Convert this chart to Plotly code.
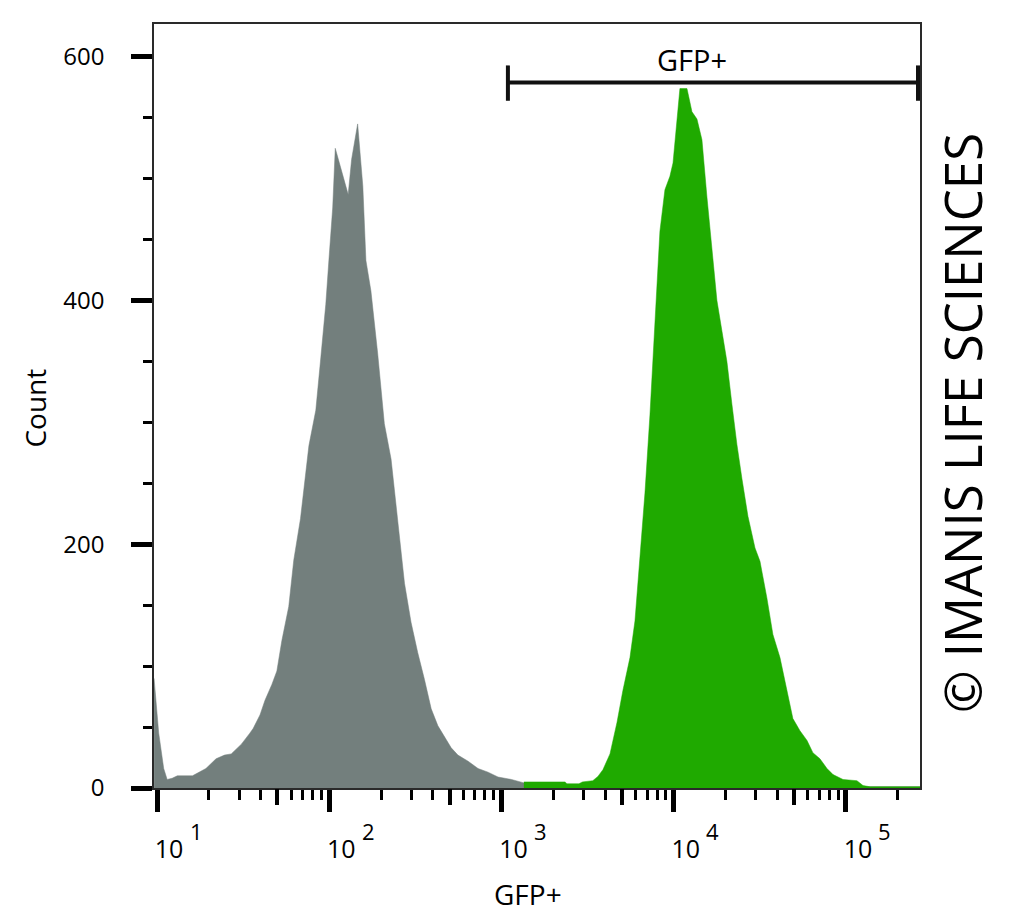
import numpy as np
import plotly.graph_objects as go

# ---------------- data (log10 of GFP intensity, event count) ----------------
gray_log = [0.983, 1.01, 1.039, 1.059, 1.088, 1.118, 1.206, 1.245, 1.284, 1.343, 1.392,
            1.431, 1.49, 1.539, 1.559, 1.598, 1.627, 1.667, 1.696, 1.725, 1.765, 1.794,
            1.833, 1.882, 1.922, 1.951, 1.98, 2.0, 2.02, 2.035, 2.06, 2.09, 2.11, 2.13,
            2.165, 2.195, 2.213, 2.242, 2.281, 2.32, 2.359, 2.398, 2.437, 2.475, 2.514,
            2.553, 2.592, 2.631, 2.67, 2.708, 2.747, 2.806, 2.864, 2.922, 2.98, 3.058,
            3.136, 3.25, 3.4, 5.43]
gray_count = [90, 45, 16, 7, 8, 10, 10, 13, 16, 24, 27,
              28, 36, 45, 49, 60, 72, 85, 96, 121, 149, 187,
              221, 281, 310, 353, 397, 437, 476, 525, 513, 498, 487, 516,
              545, 494, 433, 408, 357, 299, 270, 219, 168, 136, 111,
              89, 65, 51, 42, 33, 27, 22, 16, 13, 9, 7,
              4, 2, 1, 1]

green_log = [3.13, 3.369, 3.38, 3.45, 3.47, 3.53, 3.56, 3.589, 3.63, 3.671, 3.705,
             3.746, 3.775, 3.804, 3.833, 3.862, 3.891, 3.92, 3.949, 3.978, 3.996,
             4.019, 4.036, 4.077, 4.106, 4.135, 4.164, 4.193, 4.222, 4.251, 4.28,
             4.309, 4.338, 4.367, 4.396, 4.431, 4.472, 4.501, 4.541, 4.576, 4.617,
             4.657, 4.692, 4.733, 4.774, 4.808, 4.849, 4.89, 4.925, 4.983, 5.064,
             5.099, 5.14, 5.43]
green_count = [5, 5, 3.5, 3.5, 5, 6, 9.5, 15, 28, 54, 80,
               107, 137, 186, 242, 306, 386, 457, 491, 502, 513,
               548, 574, 574, 555, 549, 532, 485, 440, 400, 375,
               350, 315, 282, 254, 223, 197, 186, 156, 126, 107,
               80, 57, 47, 39, 29, 24, 16, 11, 7, 6,
               2, 1, 1]

# gate "GFP+"
gate_bounds = [1090, 262000]
gate_level = 579
gate_cap = [564, 593]
gate_label = "GFP+"
gate_label_log_x = 4.106
gate_label_y = 598

x_range_log = [0.9826, 5.43]
y_range = [0, 627]
decades = [10, 100, 1000, 10000, 100000]
decade_base = ["10", "10", "10", "10", "10"]
decade_exps = ["1", "2", "3", "4", "5"]
half_decades = [50, 500, 5000, 50000]
minor_x = [m * 10 ** k for k in range(1, 6) for m in (2, 3, 4, 6, 7, 8, 9)
           if m * 10 ** k <= 10 ** x_range_log[1]]
y_major = [0, 200, 400, 600]
y_minor = [v for v in range(50, 601, 50) if v not in y_major]

GRAY = "#737f7d"
GREEN = "#1faa00"
FONT = "Open Sans"

fig = go.Figure()
fig.add_trace(go.Scatter(x=10 ** np.array(gray_log), y=gray_count, mode="lines",
                         fill="tozeroy", fillcolor=GRAY, line=dict(color=GRAY, width=0.5),
                         hoverinfo="skip", showlegend=False))
fig.add_trace(go.Scatter(x=10 ** np.array(green_log), y=green_count, mode="lines",
                         fill="tozeroy", fillcolor=GREEN, line=dict(color=GREEN, width=0.5),
                         hoverinfo="skip", showlegend=False))

# gate bracket (on overlay axis x2, identical range)
gx = [gate_bounds[0], gate_bounds[0], None, gate_bounds[0], gate_bounds[1], None,
      gate_bounds[1], gate_bounds[1]]
gy = [gate_cap[0], gate_cap[1], None, gate_level, gate_level, None, gate_cap[0], gate_cap[1]]
fig.add_trace(go.Scatter(x=gx, y=gy, mode="lines", xaxis="x2",
                         line=dict(color="#111111", width=4), hoverinfo="skip",
                         showlegend=False))

axis_line = dict(showline=True, linecolor="#2a2a2a", linewidth=1.5, mirror=True,
                 showgrid=False, zeroline=False)

annotations = [
    dict(text=gate_label, x=gate_label_log_x, y=gate_label_y, xref="x", yref="y",
         xanchor="center", yanchor="middle",
         showarrow=False, font=dict(size=29, family=FONT)),
    dict(text="GFP+", x=0.488, y=-0.139, xref="paper", yref="paper",
         xanchor="center", yanchor="middle",
         showarrow=False, font=dict(size=28, family=FONT)),
    dict(text="Count", x=-0.155, y=0.497, xref="paper", yref="paper",
         xanchor="center", yanchor="middle",
         textangle=-90, showarrow=False, font=dict(size=28, family=FONT)),
    dict(text="© IMANIS LIFE SCIENCES", x=1.0548, y=0.4777, xref="paper",
         yref="paper", xanchor="center", yanchor="middle", textangle=-90,
         showarrow=False, font=dict(size=51, family=FONT)),
]
# decade exponents (superscripts of the tick labels)
for d, e in zip(decades, decade_exps):
    annotations.append(dict(text=e, x=np.log10(d), y=0, xref="x", yref="y",
                            xanchor="center", yanchor="middle", xshift=39, yshift=-43,
                            showarrow=False, font=dict(size=22, family=FONT)))

fig.update_layout(
    width=1024, height=922, autosize=False,
    margin=dict(l=154, r=104, t=24, b=134, pad=0),
    paper_bgcolor="white", plot_bgcolor="white",
    font=dict(family=FONT, color="black"),
    xaxis=dict(type="log", range=x_range_log, tickmode="array", tickvals=decades,
               ticktext=decade_base, ticks="outside", ticklen=22, tickwidth=5,
               tickcolor="black", tickfont=dict(size=25, family=FONT),
               ticklabelshift=12, ticklabelstandoff=16,
               minor=dict(tickmode="array", tickvals=minor_x, ticks="outside",
                          ticklen=10, tickwidth=2.5, tickcolor="black"),
               **axis_line),
    xaxis2=dict(type="log", range=x_range_log, overlaying="x", anchor="y", side="bottom",
                tickmode="array", tickvals=half_decades, ticks="outside", ticklen=16,
                tickwidth=4, tickcolor="black", showticklabels=False, showline=False,
                showgrid=False, zeroline=False),
    yaxis=dict(range=y_range, tickmode="array", tickvals=y_major,
               ticks="outside", ticklen=21, tickwidth=4.5, tickcolor="black",
               tickfont=dict(size=24, family=FONT), ticklabelstandoff=22,
               minor=dict(tickmode="array", tickvals=y_minor, ticks="outside",
                          ticklen=9, tickwidth=2.5, tickcolor="black"),
               **axis_line),
    annotations=annotations,
)

fig.write_html("out.html")
